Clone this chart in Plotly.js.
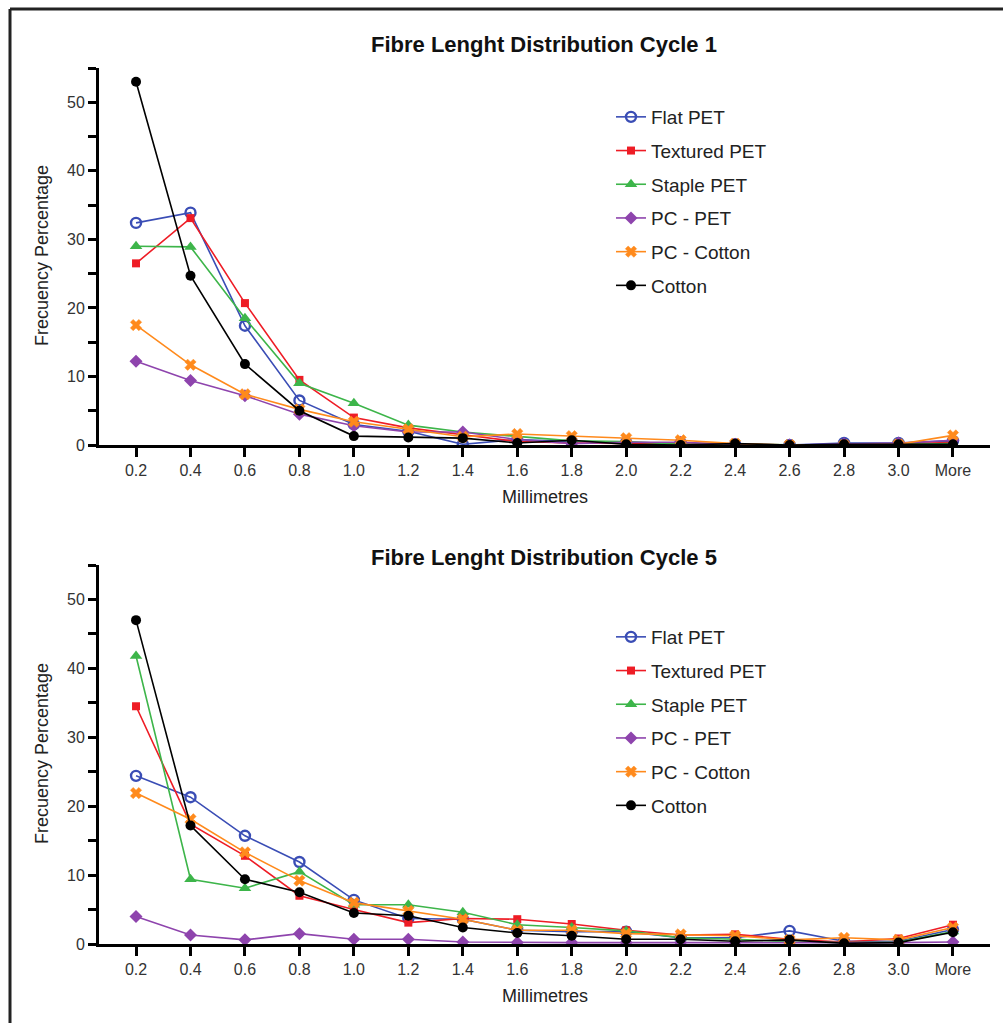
<!DOCTYPE html>
<html>
<head>
<meta charset="utf-8">
<script src="https://cdn.plot.ly/plotly-3.0.1.min.js"></script>
<style>html,body{margin:0;padding:0;background:#fff;}#chart{width:1003px;height:1023px;}</style>
</head>
<body>
<div id="chart"></div>
<script>
const categories = ["0.2","0.4","0.6","0.8","1.0","1.2","1.4","1.6","1.8","2.0","2.2","2.4","2.6","2.8","3.0","More"];
const seriesNames = ["Flat PET","Textured PET","Staple PET","PC - PET","PC - Cotton","Cotton"];

// Cycle 1
const c1_flatPET     = [32.4, 33.9, 17.4, 6.5, 3.0, 2.0, 0.1, 0.8, 0.5, 0.4, 0.3, 0.1, 0.0, 0.3, 0.3, 0.6];
const c1_texturedPET = [26.5, 33.1, 20.7, 9.5, 4.0, 2.5, 1.5, 0.5, 0.3, 0.2, 0.2, 0.1, 0.0, 0.0, 0.1, 0.4];
const c1_staplePET   = [29.0, 28.9, 18.5, 9.0, 6.1, 2.9, 1.9, 1.2, 0.6, 0.5, 0.1, 0.1, 0.0, 0.0, 0.1, 0.2];
const c1_pcPET       = [12.2, 9.4, 7.2, 4.5, 2.8, 1.9, 1.9, 0.8, 0.2, 0.4, 0.4, 0.1, 0.0, 0.2, 0.3, 0.7];
const c1_pcCotton    = [17.5, 11.7, 7.4, 5.2, 3.4, 2.3, 1.2, 1.6, 1.3, 1.0, 0.7, 0.2, 0.0, 0.0, 0.1, 1.4];
const c1_cotton      = [53.0, 24.7, 11.8, 5.0, 1.3, 1.1, 1.0, 0.3, 0.7, 0.1, 0.0, 0.2, 0.0, 0.1, 0.1, 0.1];

// Cycle 5
const c5_flatPET     = [24.4, 21.3, 15.7, 11.9, 6.4, 3.7, 3.6, 2.0, 1.8, 1.8, 0.9, 0.9, 1.9, 0.4, 0.4, 2.1];
const c5_texturedPET = [34.5, 17.4, 12.8, 7.0, 5.0, 3.1, 3.7, 3.6, 2.9, 2.0, 1.3, 1.4, 0.7, 0.3, 0.8, 2.8];
const c5_staplePET   = [41.8, 9.4, 8.1, 10.5, 5.7, 5.7, 4.6, 2.8, 2.4, 1.9, 0.9, 0.7, 0.3, 0.2, 0.3, 1.8];
const c5_pcPET       = [4.0, 1.3, 0.6, 1.5, 0.7, 0.7, 0.3, 0.2, 0.2, 0.2, 0.2, 0.2, 0.2, 0.1, 0.2, 0.3];
const c5_pcCotton    = [21.9, 18.1, 13.3, 9.2, 6.0, 4.8, 3.6, 2.0, 2.0, 1.5, 1.4, 1.2, 0.6, 0.9, 0.6, 2.4];
const c5_cotton      = [47.0, 17.2, 9.4, 7.5, 4.5, 4.1, 2.4, 1.6, 1.2, 0.7, 0.7, 0.4, 0.6, 0.1, 0.2, 1.7];

const yTickVals = [0,5,10,15,20,25,30,35,40,45,50,55];
const yTickText = ["0","","10","","20","","30","","40","","50",""];

const colors = ["#3a4db5","#ee1c25","#3db54a","#8e44ad","#ff8a1c","#000000"];
const symbols = ["circle-open","square","triangle-up","diamond","x","circle"];
const sizes = [10,8,11,10,10,10];

function makeTraces(dataArr, xa, ya, legendName) {
  return dataArr.map((vals, i) => ({
    type: "scatter",
    mode: "lines+markers",
    x: categories,
    y: vals,
    name: seriesNames[i],
    xaxis: xa,
    yaxis: ya,
    legend: legendName,
    legendgroup: legendName + i,
    line: {color: colors[i], width: 1.6},
    marker: {symbol: symbols[i], size: sizes[i], color: colors[i], line: {color: colors[i], width: symbols[i]==="circle-open"?2.4:(symbols[i]==="x"?0.5:0)}}
  }));
}

const traces = [
  ...makeTraces([c1_flatPET,c1_texturedPET,c1_staplePET,c1_pcPET,c1_pcCotton,c1_cotton], "x", "y", "legend"),
  ...makeTraces([c5_flatPET,c5_texturedPET,c5_staplePET,c5_pcPET,c5_pcCotton,c5_cotton], "x2", "y2", "legend2")
];

const W = 1003, H = 1023;
const px = v => v / W;
const py = v => (H - v) / H;

const FAM = "Liberation Sans, Arial, sans-serif";
const tickFont = {family: FAM, size: 16, color: "#333"};
function xAxis(anchor, domain) {
  return {
    anchor: anchor, domain: domain, type: "category",
    range: [-0.68, 15.68], showline: true, linecolor: "#000", linewidth: 3,
    ticks: "outside", ticklen: 9, tickwidth: 3, tickcolor: "#000",
    showgrid: false, zeroline: false, tickfont: tickFont, fixedrange: true
  };
}
function yAxis(anchor, domain) {
  return {
    anchor: anchor, domain: domain, range: [0, 55],
    tickvals: yTickVals, ticktext: yTickText,
    showline: true, linecolor: "#000", linewidth: 3,
    ticks: "outside", ticklen: 8, tickwidth: 3, tickcolor: "#000",
    showgrid: false, zeroline: false, tickfont: tickFont, fixedrange: true
  };
}

const titleFont = {family: FAM, size: 22, color: "#111"};
const axTitleFont = {family: FAM, size: 18, color: "#222"};

const legendBase = {
  font: {family: FAM, size: 19, color: "#222"},
  bgcolor: "rgba(0,0,0,0)", traceorder: "grouped", tracegroupgap: 6,
  xanchor: "left", yanchor: "top", itemwidth: 30
};

const layout = {
  width: W, height: H,
  margin: {l: 0, r: 0, t: 0, b: 0},
  paper_bgcolor: "#fff", plot_bgcolor: "#fff",
  showlegend: true,
  xaxis: xAxis("y", [px(99), px(990)]),
  yaxis: yAxis("x", [py(445), py(68)]),
  xaxis2: xAxis("y2", [px(99), px(990)]),
  yaxis2: yAxis("x2", [py(944), py(565)]),
  legend: Object.assign({}, legendBase, {x: px(611), y: py(98)}),
  legend2: Object.assign({}, legendBase, {x: px(611), y: py(618)}),
  annotations: [
    {text: "<b>Fibre Lenght Distribution Cycle 1</b>", xref: "paper", yref: "paper", x: px(544), y: py(45), showarrow: false, font: titleFont, xanchor: "center", yanchor: "middle"},
    {text: "<b>Fibre Lenght Distribution Cycle 5</b>", xref: "paper", yref: "paper", x: px(544), y: py(557), showarrow: false, font: titleFont, xanchor: "center", yanchor: "middle"},
    {text: "Millimetres", xref: "paper", yref: "paper", x: px(545), y: py(497), showarrow: false, font: axTitleFont, xanchor: "center", yanchor: "middle"},
    {text: "Millimetres", xref: "paper", yref: "paper", x: px(545), y: py(996), showarrow: false, font: axTitleFont, xanchor: "center", yanchor: "middle"},
    {text: "Frecuency Percentage", xref: "paper", yref: "paper", x: px(42), y: py(256), showarrow: false, font: axTitleFont, textangle: -90, xanchor: "center", yanchor: "middle"},
    {text: "Frecuency Percentage", xref: "paper", yref: "paper", x: px(42), y: py(754), showarrow: false, font: axTitleFont, textangle: -90, xanchor: "center", yanchor: "middle"}
  ],
  shapes: [
    {type: "line", xref: "paper", yref: "paper", x0: px(10), x1: 1.0, y0: py(9), y1: py(9), line: {color: "#222", width: 3}},
    {type: "line", xref: "paper", yref: "paper", x0: px(10), x1: px(10), y0: py(9), y1: 0, line: {color: "#222", width: 3}}
  ]
};

Plotly.newPlot("chart", traces, layout, {displayModeBar: false, staticPlot: true});
</script>
</body>
</html>
